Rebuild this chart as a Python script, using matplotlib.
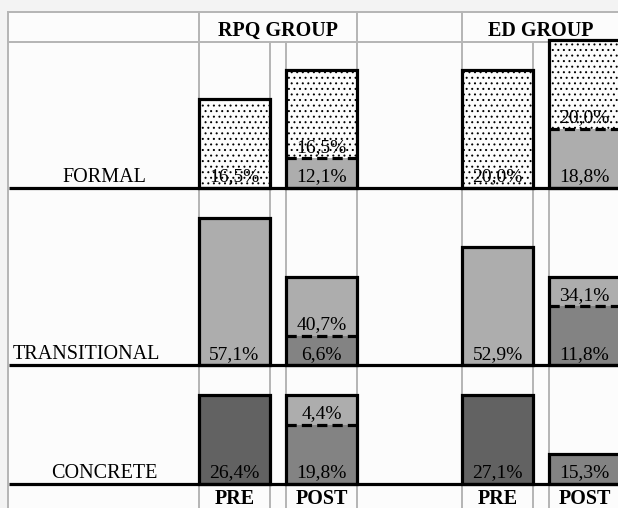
import matplotlib
matplotlib.use("Agg")
import matplotlib.pyplot as plt
from matplotlib.patches import Rectangle

# ---------------- data ----------------
groups = ["RPQ GROUP", "ED GROUP"]
levels = ["FORMAL", "TRANSITIONAL", "CONCRETE"]
phases = ["PRE", "POST"]

# percentages printed in the cells
rpq_pre_pct = [16.5, 57.1, 26.4]
rpq_post_lower_pct = [12.1, 6.6, 19.8]
rpq_post_upper_pct = [16.5, 40.7, 4.4]
ed_pre_pct = [20.0, 52.9, 27.1]
ed_post_lower_pct = [18.8, 11.8, 15.3]
ed_post_upper_pct = [20.0, 34.1, None]

# bar heights as drawn (height units)
rpq_pre_units = [3, 5, 3]
rpq_post_lower_units = [1, 1, 2]
rpq_post_upper_units = [3, 2, 1]
ed_pre_units = [4, 4, 3]
ed_post_lower_units = [2, 2, 1]
ed_post_upper_units = [3, 1, 0]

# fill style of each segment, per level
pre_fill = ["dots", "light", "dark"]
post_lower_fill = ["light", "mid", "mid"]
post_upper_fill = ["dots", "light", "light"]

# ---------------- styles / layout ----------------
W, H = 618, 508
UNIT = 29.5
TOP, HEAD = 12, 42
BASELINES = [187.5, 365, 483.5]
GROUP_LEFT = [199, 462]
BAR_W, GAP = 71, 16
GRID_C = "#b5b5b5"
FILLS = {"dots": "#fcfcfc", "light": "#adadad", "mid": "#838383", "dark": "#626262"}
SERIF = ["Liberation Serif", "DejaVu Serif"]

plt.rcParams["hatch.linewidth"] = 0.7

fig = plt.figure(figsize=(W / 100, H / 100), dpi=100)
fig.patch.set_facecolor("#f3f3f3")
ax = fig.add_axes([0, 0, 1, 1])
ax.set_xlim(0, W)
ax.set_ylim(H, 0)
ax.axis("off")

ax.add_patch(Rectangle((8, TOP), W, H, fc="#fcfcfc", ec="none", zorder=0))

# grid lines
glw = 1.4
ax.plot([8, 8], [TOP, H], color=GRID_C, lw=glw, zorder=1)
ax.plot([8, W], [TOP, TOP], color=GRID_C, lw=glw, zorder=1)
ax.plot([8, W], [HEAD, HEAD], color=GRID_C, lw=glw, zorder=1)
for gl in GROUP_LEFT:
    ax.plot([gl, gl], [TOP, HEAD], color=GRID_C, lw=glw, zorder=1)
ax.plot([357, 357], [TOP, HEAD], color=GRID_C, lw=glw, zorder=1)
for gl in GROUP_LEFT:
    for xv in [gl, gl + BAR_W, gl + BAR_W + GAP, gl + 2 * BAR_W + GAP]:
        ax.plot([xv, xv], [HEAD, H], color=GRID_C, lw=glw, zorder=1)


def fmt(v):
    return f"{v:.1f}%".replace(".", ",")


def seg(xc, base, units, style, z=2):
    kw = dict(width=BAR_W, color=FILLS[style], linewidth=0, zorder=z, align="center")
    if style == "dots":
        kw.update(hatch="...", edgecolor="black")
    ax.bar(xc, -units * UNIT, bottom=base, **kw)


tfont = dict(family=SERIF, fontsize=14, color="black", zorder=6)

group_data = [
    (rpq_pre_pct, rpq_pre_units, rpq_post_lower_pct, rpq_post_lower_units,
     rpq_post_upper_pct, rpq_post_upper_units),
    (ed_pre_pct, ed_pre_units, ed_post_lower_pct, ed_post_lower_units,
     ed_post_upper_pct, ed_post_upper_units),
]

for gi, (pp, pu, lp, lu, up, uu) in enumerate(group_data):
    gl = GROUP_LEFT[gi]
    x_pre = gl + BAR_W / 2
    x_post = gl + BAR_W + GAP + BAR_W / 2
    for li, base in enumerate(BASELINES):
        # PRE bar
        seg(x_pre, base, pu[li], pre_fill[li])
        ax.bar(x_pre, -pu[li] * UNIT, bottom=base, width=BAR_W, fill=False,
               edgecolor="black", linewidth=2.3, zorder=4)
        ax.text(x_pre, base - 6, fmt(pp[li]), ha="center", va="baseline", **tfont)
        # POST stacked bar
        seg(x_post, base, lu[li], post_lower_fill[li])
        split = base - lu[li] * UNIT
        if uu[li] > 0:
            seg(x_post, split, uu[li], post_upper_fill[li])
            ax.plot([x_post - BAR_W / 2, x_post + BAR_W / 2], [split, split],
                    color="black", lw=2.3, ls=(0, (3.2, 1.6)), zorder=5)
            ax.text(x_post, split - 6, fmt(up[li]), ha="center", va="baseline", **tfont)
        total = lu[li] + uu[li]
        ax.bar(x_post, -total * UNIT, bottom=base, width=BAR_W, fill=False,
               edgecolor="black", linewidth=2.3, zorder=4)
        ax.text(x_post, base - 6, fmt(lp[li]), ha="center", va="baseline", **tfont)
    # headers
    cell_r = gl + 2 * BAR_W + GAP
    ax.text((gl + cell_r) / 2, 35.5, groups[gi], ha="center", va="baseline",
            family=SERIF, fontsize=14.5, fontweight="bold", zorder=6)
    ax.text(x_pre, 504, phases[0], ha="center", va="baseline",
            family=SERIF, fontsize=14.5, fontweight="bold", zorder=6)
    ax.text(x_post, 504, phases[1], ha="center", va="baseline",
            family=SERIF, fontsize=14.5, fontweight="bold", zorder=6)

# baselines
for base in BASELINES:
    ax.plot([9, W], [base, base], color="black", lw=2.3, zorder=5, solid_capstyle="butt")

# row labels
label_x = [104, 13, 104]
label_ha = ["center", "left", "center"]
for li, base in enumerate(BASELINES):
    ax.text(label_x[li], base - 6, levels[li], ha=label_ha[li], va="baseline",
            family=SERIF, fontsize=14.5, zorder=6)

fig.savefig("out.png", dpi=100, facecolor=fig.get_facecolor())
